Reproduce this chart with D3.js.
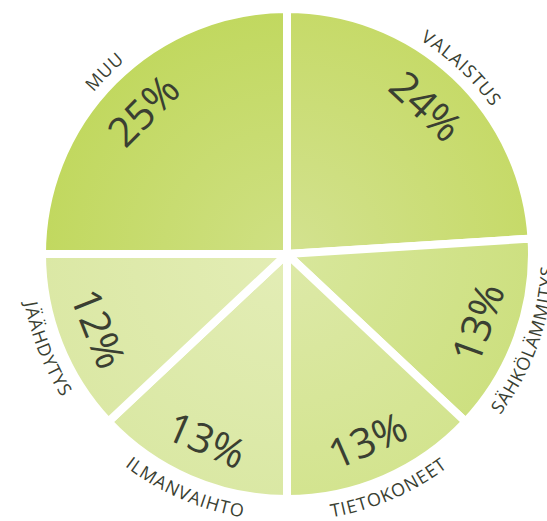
<!DOCTYPE html>
<html lang="fi">
  <head>
    <meta charset="utf-8" />
    <title>Energiankulutus</title>
    <script src="https://cdnjs.cloudflare.com/ajax/libs/d3/7.8.5/d3.min.js"></script>
    <style type="text/css">
      body {
        margin: 0;
        background: #fff;
      }

      .pct {
        font-family: "Open Sans", sans-serif;
        font-size: 41px;
        fill: #3a3f32;
      }

      .name {
        font-family: "Open Sans", sans-serif;
        font-size: 18px;
        letter-spacing: 1px;
        fill: #3a3f32;
      }
    </style>
  </head>

  <body>
    <script>
      // Data
      const categories = ["MUU", "VALAISTUS", "SÄHKÖLÄMMITYS", "TIETOKONEET", "ILMANVAIHTO", "JÄÄHDYTYS"];
      const values = [25, 24, 13, 13, 13, 12];
      const percentLabels = ["25%", "24%", "13%", "13%", "13%", "12%"];

      // slice colours: [edge, centre]
      const colors = [
        ["#c1d85f", "#cfe083"],
        ["#c6da68", "#d3e290"],
        ["#cde080", "#d8e79c"],
        ["#d3e48f", "#dde9a8"],
        ["#dae8a4", "#e3edb6"],
        ["#dbe8a5", "#e3edb5"],
      ];

      const width = 547;
      const height = 521;
      const cx = 287;
      const cy = 254;
      const radius = 245;
      const gap = 8;

      const data = categories.map((c, i) => ({ name: c, value: values[i], label: percentLabels[i], i }));

      const pie = d3.pie()
        .sort(null)
        .value(d => d.value)
        .startAngle(-Math.PI / 2)
        .endAngle(Math.PI * 1.5);

      const arc = d3.arc().innerRadius(0).outerRadius(radius);

      const svg = d3.select("body").append("svg")
        .attr("width", width)
        .attr("height", height)
        .attr("viewBox", [0, 0, width, height]);

      const defs = svg.append("defs");
      colors.forEach((c, i) => {
        const g = defs.append("radialGradient")
          .attr("id", "grad" + i)
          .attr("gradientUnits", "userSpaceOnUse")
          .attr("cx", 0).attr("cy", 0).attr("r", radius);
        g.append("stop").attr("offset", 0).attr("stop-color", c[1]);
        g.append("stop").attr("offset", 1).attr("stop-color", c[0]);
      });

      const g = svg.append("g").attr("transform", `translate(${cx},${cy})`);
      const arcs = pie(data);

      // slices, white stroke gives the parallel gaps
      g.selectAll("path.slice")
        .data(arcs)
        .join("path")
        .attr("class", "slice")
        .attr("d", arc)
        .attr("fill", d => `url(#grad${d.data.i})`)
        .attr("stroke", "#fff")
        .attr("stroke-width", gap)
        .attr("stroke-linejoin", "miter");

      const mid = d => (d.startAngle + d.endAngle) / 2;
      const lower = d => {
        let deg = mid(d) * 180 / Math.PI;
        deg = (deg + 360) % 360;
        return deg > 90 && deg < 270;
      };

      // percentages, tangent to the circle
      g.selectAll("text.pct")
        .data(arcs)
        .join("text")
        .attr("class", "pct")
        .attr("text-anchor", "middle")
        .attr("dy", "0.36em")
        .attr("transform", d => {
          const a = mid(d);
          const r = 203;
          const x = r * Math.sin(a);
          const y = -r * Math.cos(a);
          let rot = a * 180 / Math.PI;
          if (lower(d)) rot -= 180;
          return `translate(${x},${y}) rotate(${rot})`;
        })
        .text(d => d.data.label);

      // curved names outside the pie
      const labelPath = d => {
        const a = mid(d);
        const p = d3.path();
        if (lower(d)) {
          p.arc(0, 0, 267, a, a - Math.PI, true);
        } else {
          p.arc(0, 0, 252, a - Math.PI, a, false);
        }
        return p.toString();
      };

      g.selectAll("path.lp")
        .data(arcs)
        .join("path")
        .attr("class", "lp")
        .attr("id", (d, i) => "lp" + i)
        .attr("fill", "none")
        .attr("d", labelPath);

      g.selectAll("text.name")
        .data(arcs)
        .join("text")
        .attr("class", "name")
        .append("textPath")
        .attr("href", (d, i) => "#lp" + i)
        .attr("startOffset", "50%")
        .attr("text-anchor", "middle")
        .text(d => d.data.name);
    </script>
  </body>
</html>
